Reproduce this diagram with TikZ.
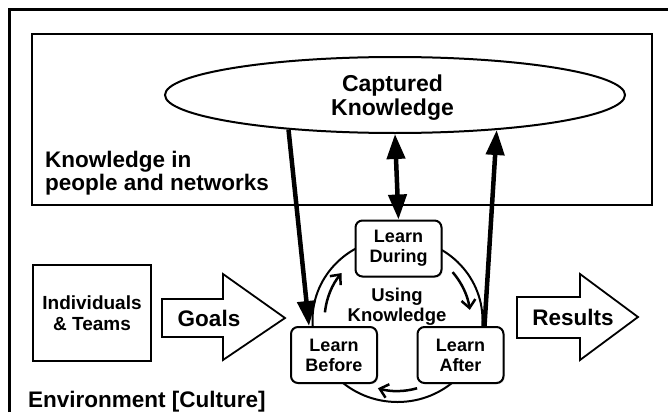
\documentclass[tikz,border=0pt]{standalone}
\usepackage{fontspec}
\setmainfont{Liberation Sans}
\usetikzlibrary{arrows.meta,shapes.geometric,shadows}
\begin{document}
\begin{tikzpicture}[x=1pt,y=-1pt,
  >={Triangle[length=25pt,width=18pt]},
  learnbox/.style={draw, line width=2pt, rounded corners=7pt, fill=white,
    minimum width=86pt, minimum height=56pt, inner sep=0pt, align=center,
    font=\bfseries\fontsize{18}{20}\selectfont,
    drop shadow={shadow xshift=1.2pt, shadow yshift=-1.2pt, opacity=0.3}},
  bigarrow/.style={line width=4.5pt},
  cyclearrow/.style={line width=2.5pt, -{Straight Barb[length=8pt,width=14pt]}},
  blockarrow/.style={draw, line width=1.8pt, fill=white, line join=miter},
  boldtext/.style={font=\bfseries\fontsize{22.5}{23}\selectfont, inner sep=0pt},
]
\useasboundingbox (0,0) rectangle (668,412);

% outer frame (open towards the right and the bottom)
\draw[line width=3pt] (9.5,412) -- (9.5,9.5) -- (668,9.5);

% knowledge in people and networks
\node[draw, line width=2pt, minimum width=620pt, minimum height=171pt, inner sep=0pt]
  (net) at (342,119.5) {};
\node[draw, ellipse, line width=2pt, fill=white, minimum width=460pt,
  minimum height=76pt, inner sep=0pt] (cap) at (395,95) {};
\node[align=center, inner sep=0pt, font=\bfseries\fontsize{23}{24}\selectfont]
  (captext) at (392.5,98) {Captured\\Knowledge};
\node[boldtext, align=left, anchor=north west] (netlabel) at (45,150.5)
  {Knowledge in\\people and networks};

% individuals and goals
\node[draw, line width=2pt, minimum width=118pt, minimum height=96pt, inner sep=0pt,
  align=center, font=\bfseries\fontsize{19}{21}\selectfont] (team) at (92,313)
  {Individuals\\\& Teams};
\draw[blockarrow] (162,299) -- (223,299) -- (223,274) -- (285,318) -- (223,360)
  -- (223,337) -- (162,337) -- cycle;
\node[boldtext] (goals) at (209,318) {Goals};

% results
\draw[blockarrow] (517,297) -- (580,297) -- (580,274) -- (638,317) -- (580,360)
  -- (580,338) -- (517,338) -- cycle;
\node[boldtext] (results) at (573,317) {Results};

% learning cycle
\coordinate (cyc) at (397.5,320);
\draw[line width=2pt] (cyc) ellipse [x radius=85pt, y radius=82pt];
\node[align=center, inner sep=0pt, font=\bfseries\fontsize{18.5}{20}\selectfont]
  (using) at (397,307) {Using\\Knowledge};
\node[learnbox] (during) at (398.5,248.5) {Learn\\During};
\node[learnbox] (before) at (334,355) {Learn\\Before};
\node[learnbox] (after) at (460.5,355) {Learn\\After};

\draw[cyclearrow] (cyc) ++(174:73pt) arc[start angle=174, end angle=140, radius=73pt];
\draw[cyclearrow] (cyc) ++(41:73pt) arc[start angle=41, end angle=8, radius=73pt];
\draw[cyclearrow] (cyc) ++(-74:71pt) arc[start angle=-74, end angle=-106, radius=71pt];

% flows between the cycle and captured knowledge
\draw[bigarrow,->] (cap.198) -- ([xshift=19pt]before.north west);
\draw[bigarrow,<->] (cap.south) -- (during.north);
\draw[bigarrow,->] ([xshift=-20pt]after.north east) -- (cap.341);

% environment
\node[boldtext, anchor=base west] (env) at (28,407) {Environment [Culture]};
\end{tikzpicture}
\end{document}
